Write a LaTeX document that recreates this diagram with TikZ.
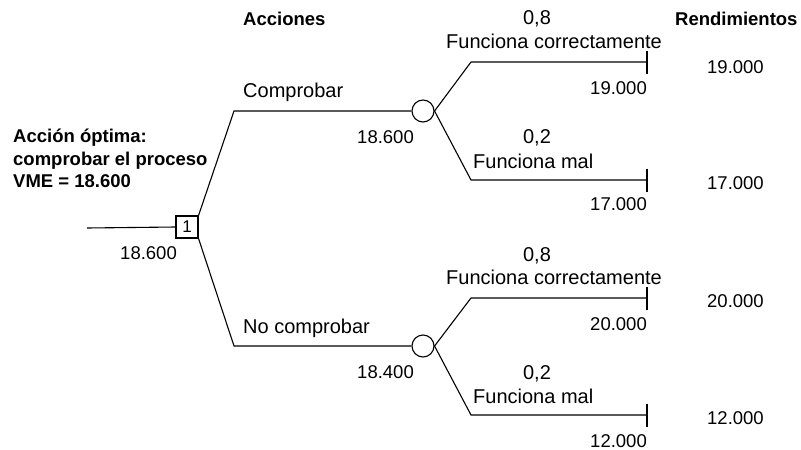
\documentclass[tikz,border=0pt]{standalone}
\usepackage{fontspec}
\setmainfont{Liberation Sans}
\begin{document}
\begin{tikzpicture}[x=1pt,y=-1pt,
  every node/.style={inner sep=0pt,font=\fontsize{18.5}{22}\selectfont},
  wd/.style={font=\fontsize{20}{24}\selectfont},
  bl/.style={font=\fontsize{18.5}{22}\selectfont\bfseries},
  edge/.style={line width=1.1pt},
  decision/.style={draw,line width=1.1pt,minimum size=22pt,font=\fontsize{17}{20}\selectfont},
  chance/.style={draw,circle,line width=1.1pt,minimum size=22pt}]
\useasboundingbox (0,0) rectangle (801,450);
% nodes
\coordinate (s) at (87,228);
\node[decision] (d) at (187,227) {1};
\node[chance] (c1) at (423,111) {};
\node[chance] (c2) at (423,346) {};
\coordinate (k1) at (234,111);
\coordinate (k2) at (234,346);
\coordinate (m1) at (471,62);
\coordinate (m2) at (471,180);
\coordinate (m3) at (471,298);
\coordinate (m4) at (471,415);
\coordinate (e1) at (647,62);
\coordinate (e2) at (647,180);
\coordinate (e3) at (647,298);
\coordinate (e4) at (647,415);
% connectors
\draw[edge] (s) -- (d.west);
\draw[edge] (d.north east) -- (k1) -- (c1.west);
\draw[edge] (d.south east) -- (k2) -- (c2.west);
\draw[edge] (c1.east) -- (m1) -- (e1);
\draw[edge] (c1.east) -- (m2) -- (e2);
\draw[edge] (c2.east) -- (m3) -- (e3);
\draw[edge] (c2.east) -- (m4) -- (e4);
\foreach \e in {e1,e2,e3,e4} \draw[edge] (\e) ++(0,-11.5) -- ++(0,23);
% headers
\node[bl,anchor=base west] (hA) at (243,25) {Acciones};
\node[bl,anchor=base west] (hR) at (675,25) {Rendimientos};
% left text
\node[bl,anchor=base west] (t1) at (13,142) {Acción óptima:};
\node[bl,anchor=base west] (t2) at (13,165) {comprobar el proceso};
\node[bl,anchor=base west] (t3) at (13,187) {VME = 18.600};
\node[anchor=base east] (v0) at (177,259) {18.600};
% actions
\node[wd,anchor=base west] (a1) at (243,97.7) {Comprobar};
\node[wd,anchor=base west] (a2) at (243,333) {No comprobar};
\node[anchor=base east] (v1) at (414,143) {18.600};
\node[anchor=base east] (v2) at (414,378) {18.400};
% upper chance
\node[wd,anchor=base] (p1) at (537,24) {0,8};
\node[wd,anchor=base west] (f1) at (446,48) {Funciona correctamente};
\node[anchor=base east] (r1) at (647,94) {19.000};
\node[wd,anchor=base] (p2) at (537,143) {0,2};
\node[wd,anchor=base west] (f2) at (473,168) {Funciona mal};
\node[anchor=base east] (r2) at (647,210) {17.000};
% lower chance
\node[wd,anchor=base] (p3) at (537,261) {0,8};
\node[wd,anchor=base west] (f3) at (446,284) {Funciona correctamente};
\node[anchor=base east] (r3) at (647,330) {20.000};
\node[wd,anchor=base] (p4) at (537,379) {0,2};
\node[wd,anchor=base west] (f4) at (473,403) {Funciona mal};
\node[anchor=base east] (r4) at (647,447) {12.000};
% payoffs
\node[anchor=base west] (y1) at (707,73) {19.000};
\node[anchor=base west] (y2) at (707,189) {17.000};
\node[anchor=base west] (y3) at (707,307) {20.000};
\node[anchor=base west] (y4) at (707,424) {12.000};
\end{tikzpicture}
\end{document}
